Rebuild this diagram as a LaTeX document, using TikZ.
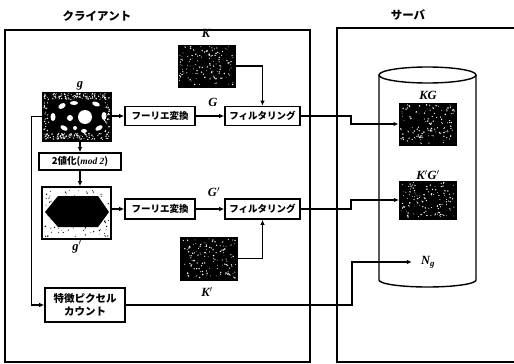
\documentclass[tikz,border=0pt]{standalone}
\usepackage{fontspec}
\setmainfont{Liberation Serif}
\newfontfamily\jp{Noto Sans CJK JP}
\usetikzlibrary{arrows.meta}
\newcommand{\mynoise}[6]{%
 \foreach \i in {1,...,#5}{%
   \pgfmathsetmacro\spx{#1+1.5+rnd*(#3-#1-3)}%
   \pgfmathsetmacro\spy{#2+1.5+rnd*(#4-#2-3)}%
   \pgfmathsetmacro\spr{0.35+0.5*rnd}%
   \fill[#6] (\spx,\spy) circle[radius=\spr];
 }}
\tikzset{
  frame/.style={line width=1.6pt},
  jbox/.style={draw, line width=1.6pt, fill=white, inner sep=0pt,
    font=\jp\bfseries\fontsize{9.5}{11}\selectfont, align=center},
  img/.style={draw, line width=1pt, fill=black, inner sep=0pt},
  lab/.style={font=\bfseries\itshape\fontsize{12.5}{13}\selectfont, inner sep=1pt},
  jt/.style={font=\jp\bfseries\fontsize{11.5}{13}\selectfont},
  conn/.style={line width=1.4pt},
  arr/.style={conn, -{Latex[length=5pt,width=4.5pt]}}
}
\begin{document}
\begin{tikzpicture}[x=1pt,y=-1pt]
\useasboundingbox (0,0) rectangle (514,364);
\pgfmathsetseed{11}
% frames
\node[jt] (tc) at (97,16) {クライアント};
\node[jt] (ts) at (408,15) {サーバ};
\draw[frame] (5,30) rectangle (310,362);
\draw[frame] (514,28) -- (337,28) -- (337,362) -- (514,362);
% cylinder
\draw[line width=1.4pt] (427.5,75) ellipse[x radius=48.5, y radius=8];
\draw[line width=1.4pt] (379,75) -- (379,280) arc[start angle=180, end angle=0, x radius=48.5, y radius=7] -- (476,75);

% client images
\node[img, minimum width=57pt, minimum height=42pt] (K) at (206.5,66) {};
\mynoise{178}{45}{235}{87}{130}{white}
\node[lab] (Kl) at (206,33) {K};

\node[img, minimum width=69pt, minimum height=49pt] (g) at (76.5,116.5) {};
\mynoise{42}{92}{111}{101}{110}{white}
\mynoise{42}{132}{111}{141}{110}{white}
\mynoise{42}{100}{50}{134}{25}{white}
\mynoise{103}{100}{111}{134}{25}{white}
\fill[white] (85,117) circle[radius=7];
\foreach \cx/\cy/\rx/\ry/\ro in {62/106/4/2.5/30, 74/103/4/2/0, 96/104/4/2.2/-20, 104/116/2.5/4/0, 99/128/4/2.2/30, 64/128/4/2.2/-30, 53/117/2.5/4/0, 84/131/3/2/0, 70/118/3/3/0, 75/128/2/2/0}
  \fill[white, rotate around={\ro:(\cx,\cy)}] (\cx,\cy) ellipse[x radius=\rx, y radius=\ry];
\node[lab] (gl) at (80,86) {g};

\node[img, fill=white, line width=1.6pt, minimum width=69pt, minimum height=52pt] (g2) at (76.5,213) {};
\mynoise{43}{188}{110}{238}{130}{black}
\fill[black] (45,212) -- (58,196) -- (98,196) -- (109,212) -- (98,227) -- (58,227) -- cycle;
\node[lab] (g2l) at (77,247) {g$'$};

\node[img, minimum width=57pt, minimum height=43pt] (K2) at (208.5,258.5) {};
\mynoise{180}{237}{237}{280}{130}{white}
\node[lab] (K2l) at (207,292) {K$'$};

% server images
\node[lab] (KGl) at (428,95) {KG};
\node[img, minimum width=57pt, minimum height=42pt] (KG) at (427.5,124) {};
\mynoise{399}{103}{456}{145}{130}{white}
\node[lab] (KGpl) at (428,175) {K$'$G$'$};
\node[img, minimum width=57pt, minimum height=38pt] (KGp) at (428,200) {};
\mynoise{399.5}{181}{456.5}{219}{120}{white}
\node[lab] (Ng) at (428,262) {N\textsubscript{\bfseries\itshape g}};

% boxes
\node[jbox, minimum width=70pt, minimum height=19pt] (f1) at (160,116) {フーリエ変換};
\node[jbox, minimum width=75pt, minimum height=19pt] (fl1) at (262.5,116) {フィルタリング};
\node[jbox, minimum width=70pt, minimum height=20pt] (f2) at (160,209) {フーリエ変換};
\node[jbox, minimum width=75pt, minimum height=20pt] (fl2) at (262.5,209) {フィルタリング};
\node[jbox, minimum width=82pt, minimum height=17pt] (bin) at (80,161.5) {2値化({\fontspec{Liberation Serif}\bfseries\itshape mod 2})};
\node[jbox, minimum width=80pt, minimum height=34pt, font=\jp\bfseries\fontsize{10.5}{12.5}\selectfont] (cnt) at (85,305) {特徴ピクセル\\カウント};

\node[lab] (Gl) at (213,102) {G};
\node[lab] (G2l) at (214,192) {G$'$};

% connectors
\draw[arr] (g.east |- f1.west) -- (f1.west);
\draw[arr] (f1) -- (fl1);
\draw[arr] (K.east) -| (fl1.north);
\draw[arr] (fl1.east) -- ++(50,0) |- (KG.west);
\draw[arr] (bin.north |- g.south) -- (bin.north);
\draw[arr] (bin.south) -- (bin.south |- g2.north);
\draw[arr] (g2.east |- f2.west) -- (f2.west);
\draw[arr] (f2) -- (fl2);
\draw[arr] (K2.east) -| (fl2.south);
\draw[arr] (fl2.east) -- ++(50,0) |- (KGp.west);
\draw[arr] (g.west) -- ++(-10,0) |- (cnt.west);
\draw[arr, shorten >=8pt] (cnt.east) -- (352,305) |- (Ng.west);
\end{tikzpicture}
\end{document}
